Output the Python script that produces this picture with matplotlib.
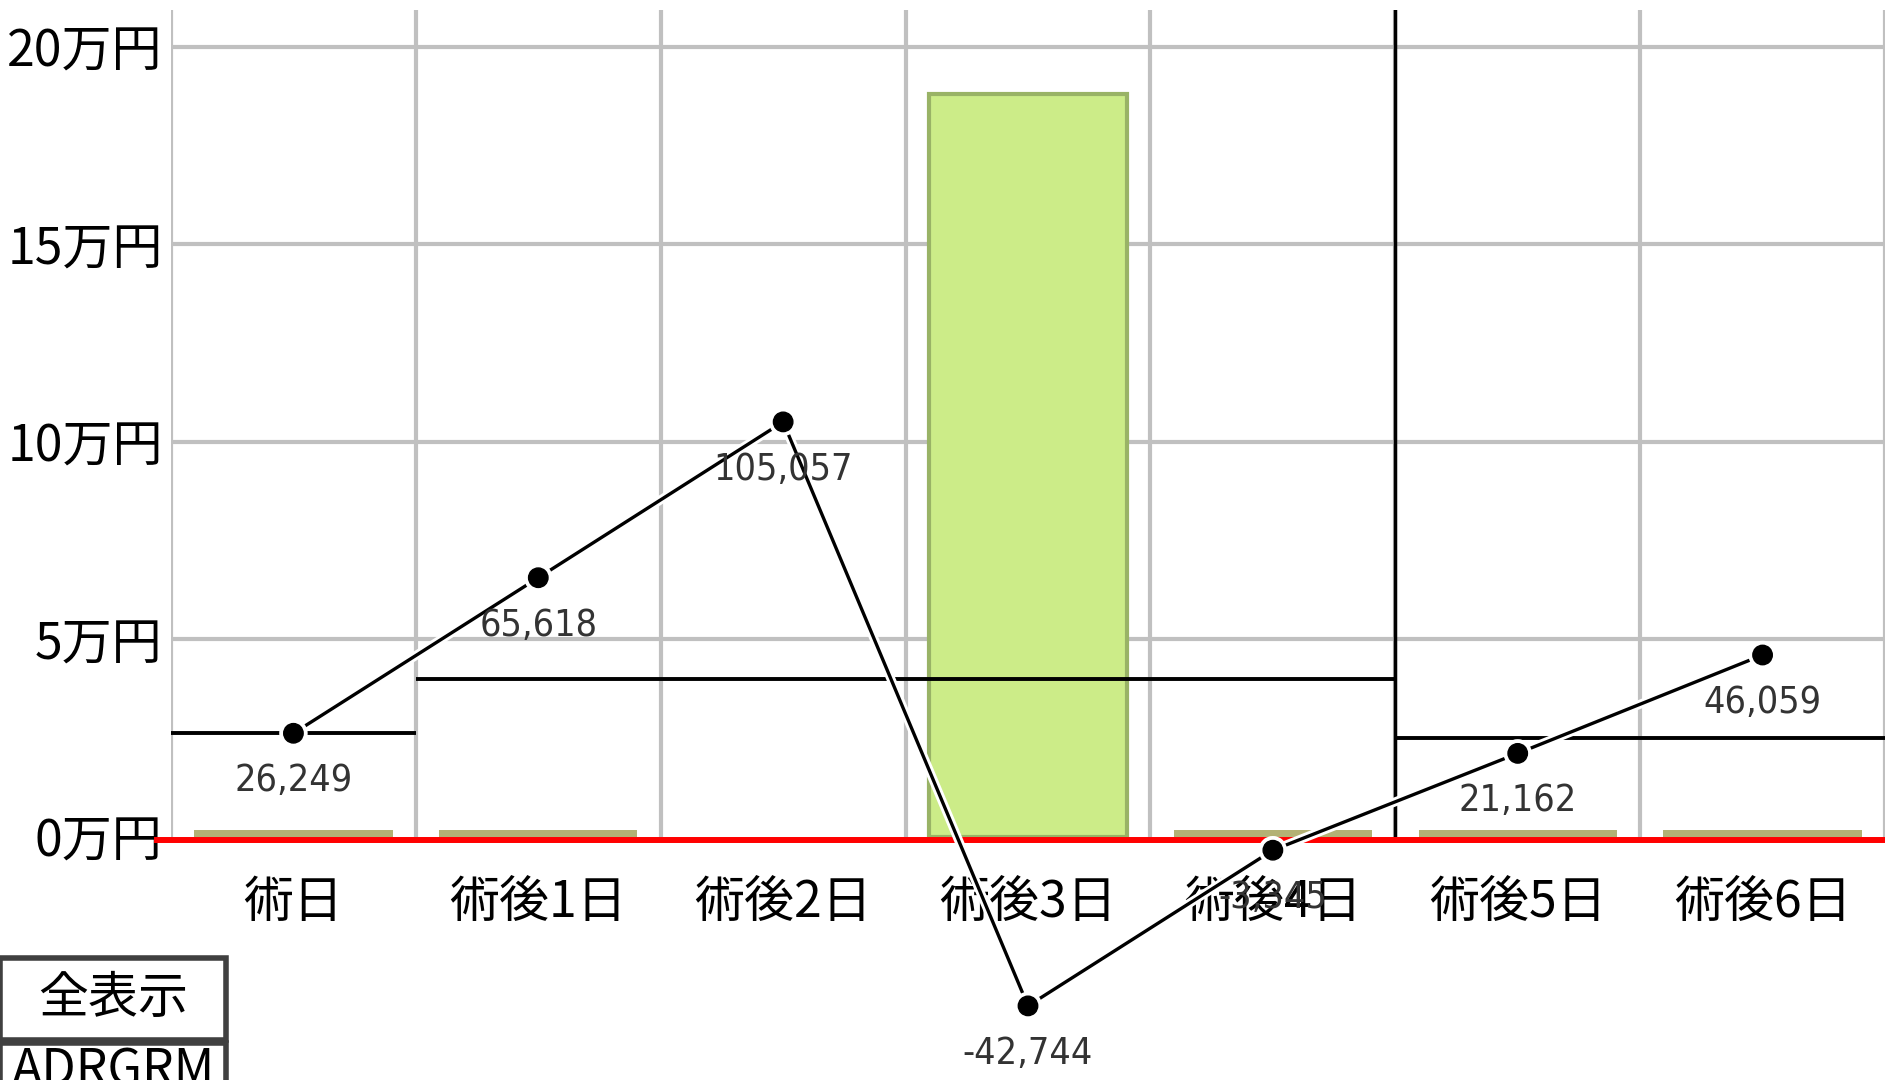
import matplotlib
matplotlib.use("Agg")
import matplotlib.pyplot as plt
import matplotlib.patheffects as pe
import matplotlib.transforms as mtransforms
from matplotlib.patches import Rectangle

# --- data ---
categories = ['術日', '術後1日', '術後2日', '術後3日', '術後4日', '術後5日', '術後6日']
daily_values = [26249, 65618, 105057, -42744, -3345, 21162, 46059]
green_bar = [0, 0, 0, 188000, 0, 0, 0]
tan_bar = [1800, 1800, 0, 0, 1800, 1800, 1800]

step_starts = [-0.5, 0.5, 4.5]
step_ends = [0.5, 4.5, 6.5]
step_values = [26249, 40000, 25000]
period_divider = 4.5

yticks = [0, 50000, 100000, 150000, 200000]
ytick_labels = ['0万円', '5万円', '10万円', '15万円', '20万円']

button_labels = ['全表示', 'ADRGRM']

CJK = ['Noto Sans CJK JP', 'DejaVu Sans']
NARROW = ['Liberation Sans Narrow', 'DejaVu Sans']

W, H = 1885, 1080
fig = plt.figure(figsize=(W / 100, H / 100), dpi=100)
ax = fig.add_axes([171 / W, 1 - 837 / H, 1 - 171 / W, (837 - 10) / H])

x = list(range(len(categories)))
ax.set_xlim(-0.5, len(categories) - 0.5)
ax.set_ylim(0, 209300)

# bars (skip empty ones, a zero-height bar still leaves a 1px sliver)
tan_x = [i for i, v in enumerate(tan_bar) if v > 0]
green_x = [i for i, v in enumerate(green_bar) if v > 0]
ax.bar(tan_x, [tan_bar[i] for i in tan_x], width=0.81, color='#b3b174',
       edgecolor='none', zorder=2)
ax.bar(green_x, [green_bar[i] for i in green_x], width=0.81, color='#ccec88',
       edgecolor='#99b366', linewidth=3, zorder=2)

# grid (no grey line at 0, the red line sits there)
ax.set_yticks(yticks)
ax.set_yticklabels(ytick_labels, fontsize=36, family=CJK)
ax.set_xticks(x)
ax.set_xticklabels(categories, fontsize=36, family=CJK)
ax.set_xticks([i - 0.5 for i in range(len(categories) + 1)], minor=True)
ax.grid(True, axis='x', which='minor', color='#c0c0c0', linewidth=3)
ax.hlines(yticks[1:], -0.5, len(categories) - 0.5, color='#c0c0c0', linewidth=3, zorder=1.5)
ax.tick_params(axis='both', which='both', length=0)
ax.tick_params(axis='x', pad=29)
ax.tick_params(axis='y', pad=6)
for s in ax.spines.values():
    s.set_visible(False)

# period averages and divider
ax.hlines(step_values, step_starts, step_ends, color='black', linewidth=2.8, zorder=3)
ax.axvline(period_divider, color='black', linewidth=2.5, zorder=3)

# zero line, sits a few pixels under the bar base
red_tr = mtransforms.offset_copy(ax.get_yaxis_transform(), fig=fig, y=-3, units='dots')
ax.plot([-0.008, 1], [0, 0], color='#ff0000', linewidth=4.3, transform=red_tr,
        clip_on=False, zorder=4)

# daily line
halo = [pe.Stroke(linewidth=6.5, foreground='white'), pe.Normal()]
ax.plot(x, daily_values, color='black', linewidth=2.4, marker='o',
        markersize=14, clip_on=False, zorder=5, path_effects=halo)

for xi, v in zip(x, daily_values):
    ax.annotate(f'{v:,}', (xi, v), xytext=(0, -48), textcoords='offset pixels',
                ha='center', va='center', fontsize=27, family=NARROW,
                fontstretch='condensed', color='#333333',
                annotation_clip=False, zorder=6)

# buttons below the chart
fig.add_artist(Rectangle((0, 1 - 1040 / H), 226 / W, 82 / H, transform=fig.transFigure,
                         facecolor='white', edgecolor='#404040', linewidth=4))
fig.add_artist(Rectangle((0, -0.02), 226 / W, 1 - 1043 / H + 0.02, transform=fig.transFigure,
                         facecolor='white', edgecolor='#404040', linewidth=4))
fig.text(113 / W, 1 - 999 / H, button_labels[0], ha='center', va='center',
         fontsize=36, family=CJK)
fig.text(113 / W, 1 - 1046 / H, button_labels[1], ha='center', va='top',
         fontsize=36, family=CJK)

fig.savefig('out.png', dpi=100)
